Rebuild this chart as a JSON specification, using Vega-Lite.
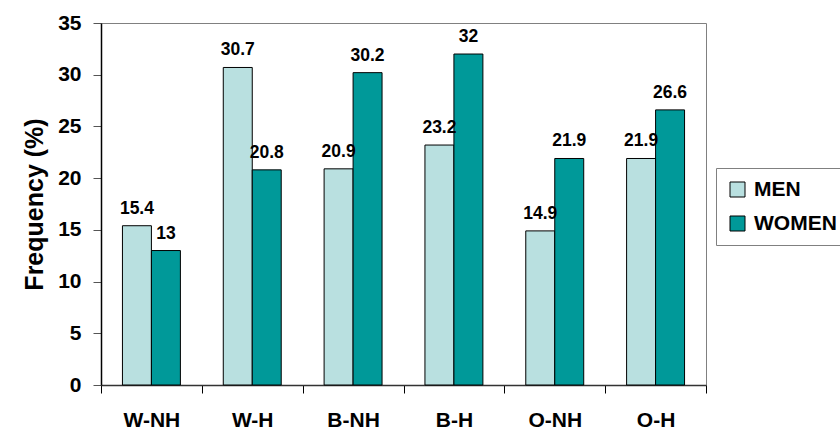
{
  "$schema": "https://vega.github.io/schema/vega-lite/v6.json",
  "autosize": "none",
  "width": 605,
  "height": 362,
  "padding": {"left": 101, "top": 23, "right": 134, "bottom": 48},
  "background": "white",
  "config": {
    "view": {"stroke": "#808080", "strokeWidth": 1},
    "font": "Liberation Sans"
  },
  "data": {
    "values": [
      {"group": "W-NH", "sex": "MEN", "freq": 15.4},
      {"group": "W-NH", "sex": "WOMEN", "freq": 13},
      {"group": "W-H", "sex": "MEN", "freq": 30.7},
      {"group": "W-H", "sex": "WOMEN", "freq": 20.8},
      {"group": "B-NH", "sex": "MEN", "freq": 20.9},
      {"group": "B-NH", "sex": "WOMEN", "freq": 30.2},
      {"group": "B-H", "sex": "MEN", "freq": 23.2},
      {"group": "B-H", "sex": "WOMEN", "freq": 32},
      {"group": "O-NH", "sex": "MEN", "freq": 14.9},
      {"group": "O-NH", "sex": "WOMEN", "freq": 21.9},
      {"group": "O-H", "sex": "MEN", "freq": 21.9},
      {"group": "O-H", "sex": "WOMEN", "freq": 26.6}
    ]
  },
  "encoding": {
    "x": {
      "field": "group",
      "type": "nominal",
      "sort": null,
      "scale": {"paddingInner": 0, "paddingOuter": 0},
      "axis": {
        "title": null,
        "labelAngle": 0,
        "labelFont": "Liberation Sans",
        "labelFontWeight": "bold",
        "labelFontSize": 21,
        "labelColor": "black",
        "labelPadding": 16,
        "tickBand": "extent",
        "tickColor": "black",
        "tickSize": 8,
        "domainColor": "#333333",
        "domainWidth": 1.5
      }
    },
    "xOffset": {
      "field": "sex",
      "type": "nominal",
      "sort": ["MEN", "WOMEN"],
      "scale": {"paddingInner": 0, "paddingOuter": 0.74}
    },
    "y": {
      "field": "freq",
      "type": "quantitative",
      "scale": {"domain": [0, 35], "nice": false},
      "axis": {
        "title": "Frequency (%)",
        "titleFont": "Liberation Sans",
        "titleFontSize": 25,
        "titleFontWeight": "bold",
        "titleColor": "black",
        "titlePadding": 10,
        "values": [0, 5, 10, 15, 20, 25, 30, 35],
        "grid": false,
        "labelFont": "Liberation Sans",
        "labelFontWeight": "bold",
        "labelFontSize": 21,
        "labelColor": "black",
        "labelPadding": 12,
        "tickColor": "#555555",
        "tickSize": 8,
        "domainColor": "black",
        "domainWidth": 1.5
      }
    }
  },
  "layer": [
    {
      "mark": {"type": "bar", "stroke": "black", "strokeWidth": 1},
      "encoding": {
        "color": {
          "field": "sex",
          "type": "nominal",
          "sort": ["MEN", "WOMEN"],
          "scale": {"domain": ["MEN", "WOMEN"], "range": ["#B9E0E0", "#009999"]},
          "legend": {
            "title": null,
            "orient": "none",
            "legendX": 615,
            "legendY": 145,
            "direction": "vertical",
            "symbolType": "square",
            "symbolSize": 225,
            "symbolStrokeColor": "black",
            "symbolStrokeWidth": 1,
            "labelFont": "Liberation Sans",
            "labelFontWeight": "bold",
            "labelFontSize": 21,
            "labelColor": "black",
            "rowPadding": 12,
            "strokeColor": "#808080",
            "padding": 11,
            "labelOffset": 6
          }
        }
      }
    },
    {
      "mark": {
        "type": "text",
        "dy": -12,
        "baseline": "alphabetic",
        "font": "Liberation Sans",
        "fontWeight": "bold",
        "fontSize": 17.5,
        "color": "black"
      },
      "encoding": {
        "text": {"field": "freq", "type": "quantitative"}
      }
    }
  ]
}
